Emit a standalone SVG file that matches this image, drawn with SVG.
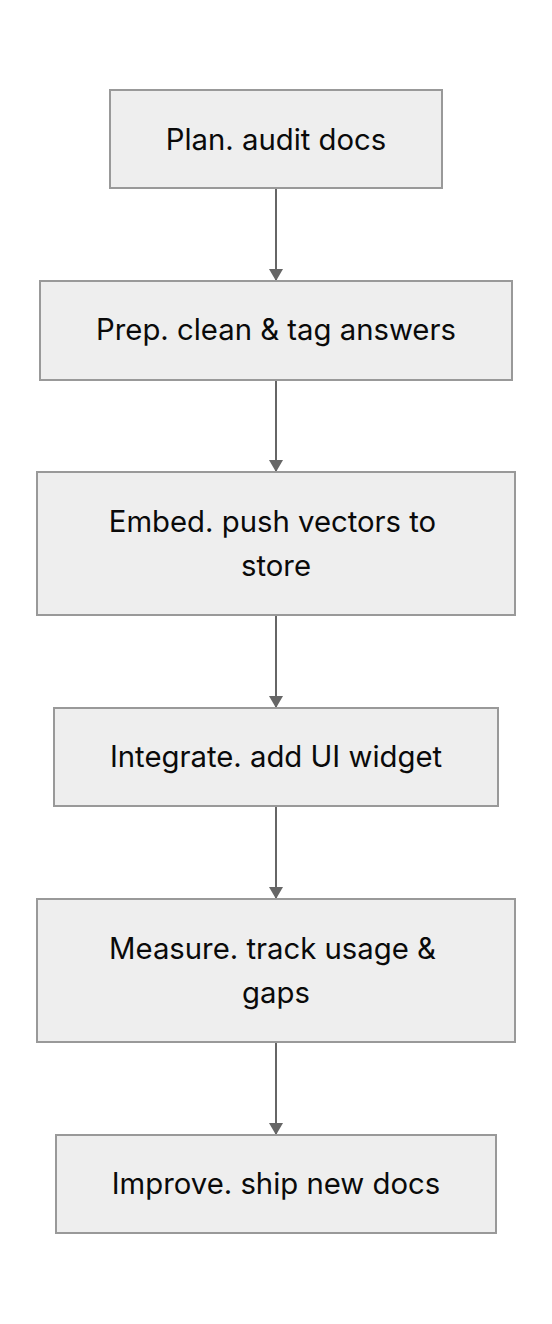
<svg xmlns="http://www.w3.org/2000/svg" width="552" height="1324" viewBox="0 0 552 1324">
<defs>
<style>
.node rect{fill:#eeeeee;stroke:#999999;stroke-width:2}
.node text{font-family:Inter,"Liberation Sans",sans-serif;font-size:29.3px;fill:#0a0a0a;text-anchor:middle}
.edge{stroke:#666666;stroke-width:2;fill:none}
</style>
<marker id="arr" viewBox="0 0 12 14" refX="12" refY="7" markerWidth="12" markerHeight="14" markerUnits="userSpaceOnUse" orient="auto">
<path d="M0,0 L12,7 L0,14 Z" fill="#666666"/>
</marker>
</defs>
<rect width="552" height="1324" fill="#ffffff"/>
<g id="connectors">
<line class="edge" x1="276" y1="189" x2="276" y2="281" marker-end="url(#arr)"/>
<line class="edge" x1="276" y1="380" x2="276" y2="472" marker-end="url(#arr)"/>
<line class="edge" x1="276" y1="615" x2="276" y2="708" marker-end="url(#arr)"/>
<line class="edge" x1="276" y1="806" x2="276" y2="899" marker-end="url(#arr)"/>
<line class="edge" x1="276" y1="1042" x2="276" y2="1135" marker-end="url(#arr)"/>
</g>
<g id="plan" class="node"><rect x="110" y="90" width="332" height="98"/><text x="276" y="149.5">Plan. audit docs</text></g>
<g id="prep" class="node"><rect x="40" y="281" width="472" height="99"/><text x="276" y="340">Prep. clean &amp; tag answers</text></g>
<g id="embed" class="node"><rect x="37" y="472" width="478" height="143"/><text x="272.5" y="531.5">Embed. push vectors to</text><text x="276" y="575.5">store</text></g>
<g id="integrate" class="node"><rect x="54" y="708" width="444" height="98"/><text x="276" y="767">Integrate. add UI widget</text></g>
<g id="measure" class="node"><rect x="37" y="899" width="478" height="143"/><text x="272.5" y="958.5">Measure. track usage &amp;</text><text x="276" y="1002.5">gaps</text></g>
<g id="improve" class="node"><rect x="56" y="1135" width="440" height="98"/><text x="276" y="1194">Improve. ship new docs</text></g>
</svg>
